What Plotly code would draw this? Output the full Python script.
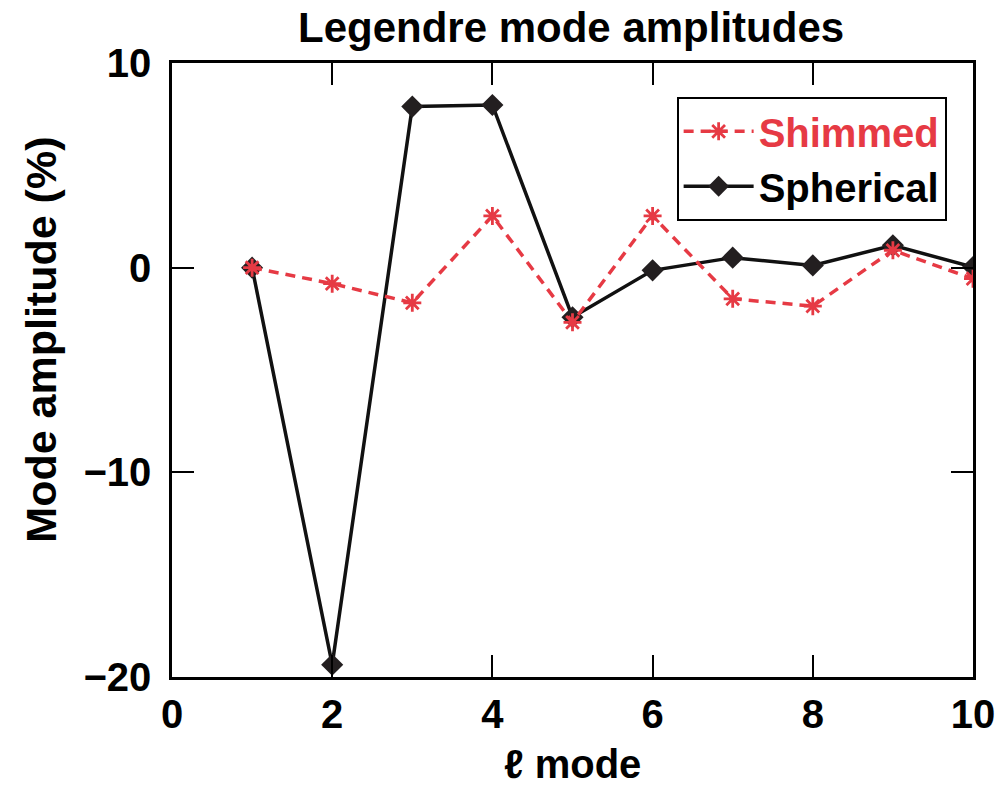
import plotly.graph_objects as go

modes = [1, 2, 3, 4, 5, 6, 7, 8, 9, 10]
shimmed = [0.0, -0.78, -1.72, 2.53, -2.67, 2.53, -1.52, -1.88, 0.85, -0.54]
spherical = [0.0, -19.4, 7.87, 7.95, -2.42, -0.13, 0.49, 0.11, 1.09, 0.03]

x_ticks = [0, 2, 4, 6, 8, 10]
y_ticks = [-20, -10, 0, 10]

RED = "#e63a44"
BLACK = "#111111"
FONT = "Liberation Sans, Arial, Helvetica, sans-serif"

fig = go.Figure()
fig.add_trace(go.Scatter(
    x=modes, y=spherical, mode="lines+markers", name="Spherical",
    line=dict(color=BLACK, width=3.5),
    marker=dict(symbol="diamond", size=17, color="#231f20"),
    legendrank=2,
))
fig.add_trace(go.Scatter(
    x=modes, y=shimmed, mode="lines+markers",
    name=f"<span style='color:{RED}'>Shimmed</span>",
    line=dict(color=RED, width=3.5, dash="10px,7px"),
    marker=dict(symbol="asterisk-open", size=15, color=RED, line=dict(color=RED, width=2.8)),
    legendrank=1,
))

axis_common = dict(
    showgrid=False, zeroline=False, showline=True, linecolor="black", linewidth=2.5,
    mirror="allticks", ticks="inside", ticklen=22, tickwidth=2.2, tickcolor="black",
    tickfont=dict(family=FONT, size=40, color="black", weight="bold"),
)

fig.update_xaxes(range=[0, 10], tickvals=x_ticks, ticktext=[str(v) for v in x_ticks], **axis_common)
fig.update_yaxes(range=[-20, 10], tickvals=y_ticks, ticklabelstandoff=10, **axis_common)

fig.update_layout(
    width=1007, height=790,
    margin=dict(l=172, r=30, t=63, b=113),
    paper_bgcolor="white", plot_bgcolor="white",
    showlegend=True,
    legend=dict(
        x=0.63, y=0.945, xanchor="left", yanchor="top",
        bordercolor="black", borderwidth=2, bgcolor="white",
        font=dict(family=FONT, size=40, color="black", weight="bold"),
        itemwidth=70, tracegroupgap=0,
    ),
)

plot_h = 790 - 63 - 113
plot_w = 1007 - 172 - 30
def py(ypx):
    return (790 - 113 - ypx) / plot_h
def px(xpx):
    return (xpx - 172) / plot_w

fig.add_annotation(text="Legendre mode amplitudes", x=px(573), y=py(28), xref="paper", yref="paper",
                   showarrow=False, xanchor="center", yanchor="middle",
                   font=dict(family=FONT, size=42, color="black", weight="bold"))
fig.add_annotation(text="ℓ mode", x=px(575), y=py(764), xref="paper", yref="paper",
                   showarrow=False, xanchor="center", yanchor="middle",
                   font=dict(family=FONT, size=40, color="black", weight="bold"))
fig.add_annotation(text="Mode amplitude (%)", x=px(40), y=py(340), xref="paper", yref="paper",
                   showarrow=False, xanchor="center", yanchor="middle", textangle=-90,
                   font=dict(family=FONT, size=43, color="black", weight="bold"))

fig.write_html("out.html")
